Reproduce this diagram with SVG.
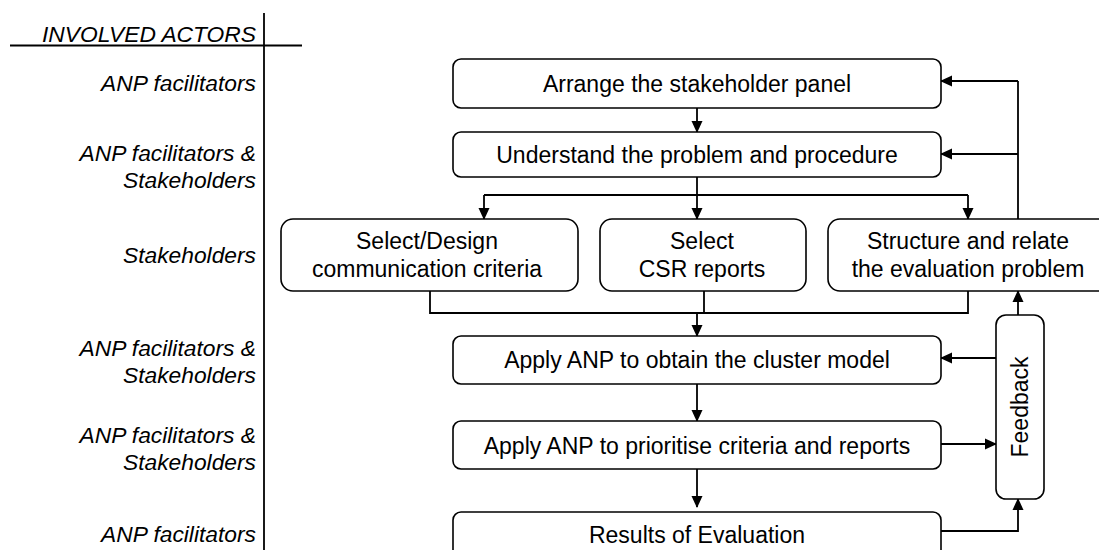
<svg xmlns="http://www.w3.org/2000/svg" width="1099" height="550" viewBox="0 0 1099 550">
  <style>
    .box { fill: #ffffff; stroke: #000000; stroke-width: 1.6; }
    .lbl { font-family: "Liberation Sans", Arial, sans-serif; font-size: 23px; fill: #000000; text-anchor: middle; }
    .actor { font-family: "Liberation Sans", Arial, sans-serif; font-size: 22.8px; font-style: italic; fill: #000000; text-anchor: end; }
    .wire { fill: none; stroke: #000000; stroke-width: 1.8; }
    .arr { fill: none; stroke: #000000; stroke-width: 1.8; marker-end: url(#head); }
  </style>
  <defs>
    <marker id="head" markerUnits="userSpaceOnUse" markerWidth="12" markerHeight="12" viewBox="0 0 12 12" refX="11" refY="6" orient="auto">
      <path d="M0,0.5 L12,6 L0,11.5 Z" fill="#000000"/>
    </marker>
  </defs>
  <rect width="1099" height="550" fill="#ffffff"/>

  <!-- actor column -->
  <g id="actors">
    <line x1="264" y1="13" x2="264" y2="550" stroke="#000" stroke-width="1.8"/>
    <line x1="10" y1="45.5" x2="302" y2="45.5" stroke="#000" stroke-width="1.8"/>
    <text class="actor" x="256" y="42">INVOLVED ACTORS</text>
    <text class="actor" x="256" y="91">ANP facilitators</text>
    <text class="actor" x="256" y="161">ANP facilitators &amp;</text>
    <text class="actor" x="256" y="188">Stakeholders</text>
    <text class="actor" x="256" y="263">Stakeholders</text>
    <text class="actor" x="256" y="356">ANP facilitators &amp;</text>
    <text class="actor" x="256" y="383">Stakeholders</text>
    <text class="actor" x="256" y="443">ANP facilitators &amp;</text>
    <text class="actor" x="256" y="470">Stakeholders</text>
    <text class="actor" x="256" y="542">ANP facilitators</text>
  </g>

  <!-- connectors -->
  <g id="connectors">
    <line class="arr" x1="697" y1="108" x2="697" y2="132"/>
    <line class="wire" x1="697" y1="177" x2="697" y2="195"/>
    <line class="wire" x1="484" y1="195" x2="968" y2="195"/>
    <line class="arr" x1="484" y1="195" x2="484" y2="219"/>
    <line class="arr" x1="697" y1="195" x2="697" y2="219"/>
    <line class="arr" x1="968" y1="195" x2="968" y2="219"/>
    <polyline class="wire" points="1018,219 1018,81"/>
    <line class="arr" x1="1018" y1="81" x2="941" y2="81"/>
    <line class="arr" x1="1018" y1="154" x2="941" y2="154"/>
    <polyline class="wire" points="430,291 430,313 968,313 968,291"/>
    <line class="wire" x1="704" y1="291" x2="704" y2="313"/>
    <line class="arr" x1="697" y1="313" x2="697" y2="336"/>
    <line class="arr" x1="697" y1="384" x2="697" y2="421"/>
    <line class="arr" x1="697" y1="469" x2="697" y2="507"/>
    <line class="arr" x1="1018" y1="315" x2="1018" y2="291"/>
    <line class="arr" x1="996" y1="358" x2="941" y2="358"/>
    <line class="arr" x1="941" y1="444" x2="996" y2="444"/>
    <polyline class="arr" points="941,531 1018,531 1018,499"/>
  </g>

  <g id="arrange">
    <rect class="box" x="453" y="59" width="488" height="49" rx="8"/>
    <text class="lbl" x="697" y="92">Arrange the stakeholder panel</text>
  </g>
  <g id="understand">
    <rect class="box" x="453" y="132" width="488" height="45" rx="8"/>
    <text class="lbl" x="697" y="163">Understand the problem and procedure</text>
  </g>
  <g id="criteria">
    <rect class="box" x="281" y="219" width="297" height="72" rx="12"/>
    <text class="lbl" x="427" y="249">Select/Design</text>
    <text class="lbl" x="427" y="277">communication criteria</text>
  </g>
  <g id="reports">
    <rect class="box" x="600" y="219" width="206" height="72" rx="12"/>
    <text class="lbl" x="702" y="249">Select</text>
    <text class="lbl" x="702" y="277">CSR reports</text>
  </g>
  <g id="structure">
    <rect class="box" x="828" y="219" width="285" height="72" rx="12"/>
    <text class="lbl" x="968" y="249">Structure and relate</text>
    <text class="lbl" x="968" y="277">the evaluation problem</text>
  </g>
  <g id="cluster">
    <rect class="box" x="453" y="336" width="488" height="48" rx="8"/>
    <text class="lbl" x="697" y="368">Apply ANP to obtain the cluster model</text>
  </g>
  <g id="prioritise">
    <rect class="box" x="453" y="421" width="488" height="48" rx="8"/>
    <text class="lbl" x="697" y="454">Apply ANP to prioritise criteria and reports</text>
  </g>
  <g id="results">
    <rect class="box" x="453" y="512" width="488" height="48" rx="8"/>
    <text class="lbl" x="697" y="543">Results of Evaluation</text>
  </g>
  <g id="feedback">
    <rect class="box" x="996" y="315" width="48" height="184" rx="10"/>
    <text class="lbl" transform="translate(1028,407) rotate(-90)" x="0" y="0">Feedback</text>
  </g>
</svg>
